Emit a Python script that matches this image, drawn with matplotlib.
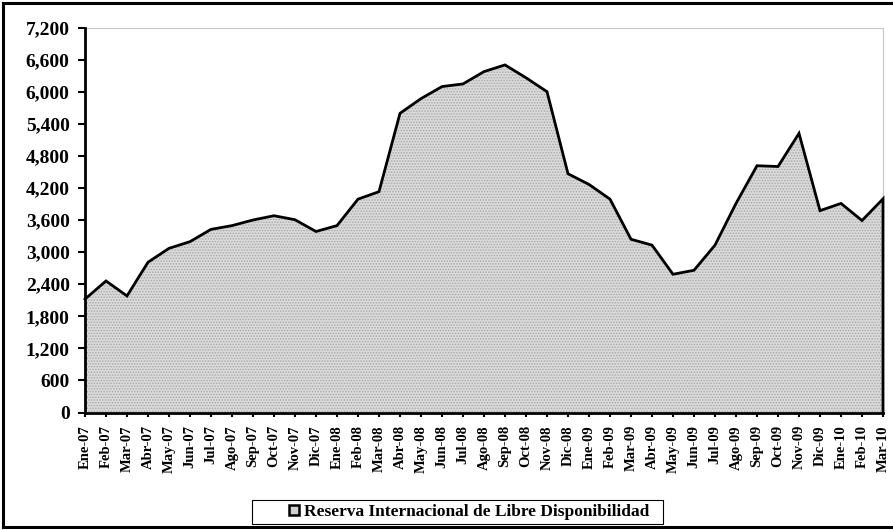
import matplotlib
matplotlib.use("Agg")
import matplotlib.pyplot as plt
from matplotlib.patches import Rectangle, Patch
from matplotlib.lines import Line2D
from matplotlib.ticker import FuncFormatter
import numpy as np

plt.rcParams['font.family'] = ['Liberation Serif', 'DejaVu Serif']
plt.rcParams['font.weight'] = 'bold'
plt.rcParams['hatch.color'] = '#a8a8a8'
plt.rcParams['hatch.linewidth'] = 0.7

months = ["Ene-07", "Feb-07", "Mar-07", "Abr-07", "May-07", "Jun-07", "Jul-07", "Ago-07",
          "Sep-07", "Oct-07", "Nov-07", "Dic-07", "Ene-08", "Feb-08", "Mar-08", "Abr-08",
          "May-08", "Jun-08", "Jul-08", "Ago-08", "Sep-08", "Oct-08", "Nov-08", "Dic-08",
          "Ene-09", "Feb-09", "Mar-09", "Abr-09", "May-09", "Jun-09", "Jul-09", "Ago-09",
          "Sep-09", "Oct-09", "Nov-09", "Dic-09", "Ene-10", "Feb-10", "Mar-10"]
reserva = [2120, 2460, 2180, 2810, 3070, 3195, 3425, 3495,
           3600, 3680, 3605, 3385, 3495, 3990, 4130, 5595,
           5870, 6095, 6145, 6375, 6500, 6260, 6000, 4465,
           4265, 3990, 3240, 3130, 2585, 2660, 3130, 3910,
           4615, 4600, 5220, 3775, 3910, 3590, 3995]
yticks = [0, 600, 1200, 1800, 2400, 3000, 3600, 4200, 4800, 5400, 6000, 6600, 7200]
legend_label = "Reserva Internacional de Libre Disponibilidad"

W, H = 893, 530
fig = plt.figure(figsize=(W / 100, H / 100), dpi=100)
ax = fig.add_axes([85 / W, (H - 412.5) / H, 798 / W, 385 / H])

x = np.arange(len(months))
y = np.array(reserva, dtype=float)
ax.fill_between(x, 0, y, facecolor='#dadada', hatch='......', edgecolor='#a8a8a8',
                linewidth=0, zorder=1)
xo = np.concatenate([x, [x[-1]]])
yo = np.concatenate([y, [0]])
ax.plot(xo, yo, color='black', linewidth=2.0, solid_joinstyle='miter', zorder=3, clip_on=False)

ax.set_xlim(0, len(months) - 1)
ax.set_ylim(0, 7200)
ax.set_yticks(yticks)
ax.yaxis.set_major_formatter(FuncFormatter(lambda v, p: f"{int(v):,}"))
ax.set_xticks(x)
ax.set_xticklabels(months, rotation=90, fontsize=10.5, fontweight='bold')
for lab in ax.get_yticklabels():
    lab.set_fontsize(14)
    lab.set_fontweight('bold')

ax.tick_params(axis='y', direction='out', length=5, width=1.5, pad=6, color='black')
ax.tick_params(axis='x', direction='out', length=3, width=1.5, pad=6, color='black')

for s in ['left', 'bottom']:
    ax.spines[s].set_linewidth(2.0)
    ax.spines[s].set_color('black')
    ax.spines[s].set_zorder(4)
for s in ['top', 'right']:
    ax.spines[s].set_linewidth(0.8)
    ax.spines[s].set_color('#c8c8c8')

# legend
fig.patches.append(Rectangle((252 / W, (H - 524) / H), 411 / W, 24 / H, transform=fig.transFigure,
                             facecolor='white', edgecolor='black', linewidth=0.8))
handle = Patch(facecolor='#d0d0d0', edgecolor='black', linewidth=1.8)
leg = fig.legend([handle], [legend_label], loc='center left',
                 bbox_to_anchor=(289 / W, (H - 512) / H), frameon=False,
                 prop={'family': 'Liberation Serif', 'weight': 'bold', 'size': 12.5},
                 handlelength=0.55, handleheight=0.55, handletextpad=0.3, borderpad=0, borderaxespad=0)

# outer border
border_kw = dict(color='black', linewidth=2.2, transform=fig.transFigure, clip_on=False)
fig.add_artist(Line2D([3 / W, 1.01], [1 - 3 / H, 1 - 3 / H], **border_kw))
fig.add_artist(Line2D([3 / W, 3 / W], [1 - 3 / H, 1 - 527 / H], **border_kw))
fig.add_artist(Line2D([3 / W, 1.01], [1 - 527 / H, 1 - 527 / H], **border_kw))

fig.savefig("out.png", dpi=100, facecolor='white')
